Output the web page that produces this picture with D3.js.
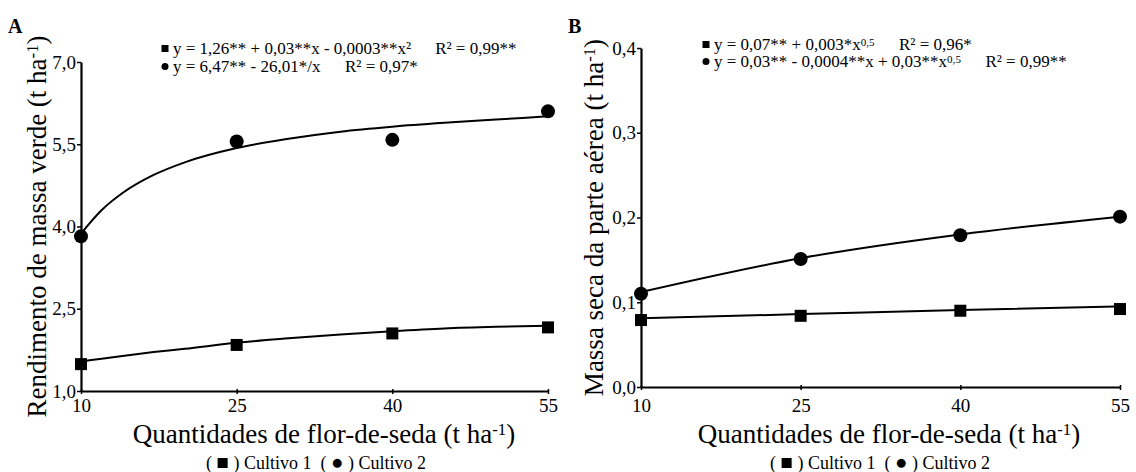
<!DOCTYPE html>
<html>
<head>
<meta charset="utf-8">
<script src="https://cdn.jsdelivr.net/npm/d3@7"></script>
<style>
    body { margin: 0; background: #fff; }
    svg { display: block; }
</style>
</head>
<body>
<svg id="chart" width="1136" height="472"></svg>
<script>
// doses of flor-de-seda (t ha-1)
const doses = [10, 25, 40, 55];
const xTicks = [10, 25, 40, 55];

// A - rendimento de massa verde
const verdeCultivo1 = [1.49, 1.84, 2.05, 2.16];
const verdeCultivo2 = [3.82, 5.55, 5.58, 6.10];
const ajusteDosesA = [10, 12, 14, 17, 20, 25, 30, 35, 40, 45, 50, 55];
const ajusteVerde1 = [1.54, 1.59, 1.64, 1.71, 1.77, 1.88, 1.96, 2.03, 2.09, 2.14, 2.17, 2.19];
const ajusteVerde2 = [3.87, 4.30, 4.61, 4.94, 5.17, 5.43, 5.60, 5.73, 5.82, 5.89, 5.95, 6.01];
const yTicksA = [1, 2.5, 4, 5.5, 7];

// B - massa seca da parte aerea
const secaCultivo1 = [0.079, 0.084, 0.090, 0.092];
const secaCultivo2 = [0.110, 0.151, 0.179, 0.201];
const ajusteDosesB = [10, 25, 40, 55];
const ajusteSeca1 = [0.081, 0.086, 0.091, 0.095];
const ajusteSeca2 = [0.112, 0.152, 0.180, 0.201];
const yTicksB = [0, 0.1, 0.2, 0.3, 0.4];

// find a Times-like font that is really installed
function pickFont(cands) {
    const ctx = document.createElement('canvas').getContext('2d');
    const s = 'Quantidades de flor-de-seda 0123456789';
    ctx.font = '40px monospace';
    const base = ctx.measureText(s).width;
    for (const f of cands) {
        ctx.font = `40px "${f}", monospace`;
        if (ctx.measureText(s).width !== base) return f;
    }
    return 'serif';
}
const serifFont = pickFont(['Liberation Serif', 'Times New Roman', 'Tinos', 'DejaVu Serif', 'Noto Serif']);

const svg = d3.select('#chart')
    .attr('font-family', `"${serifFont}", serif`);
const fmt = v => d3.format('.1f')(v).replace('.', ',');
const eqSize = 17;

const panels = [
    {
        letter: 'A', left: 81, right: 548, top: 62, bottom: 391,
        yDomain: [1, 7], yTicks: yTicksA,
        yTitle: 'Rendimento de massa verde (t ha', yTitleX: 46,
        titleX: 324, legendX: 316,
        s1: verdeCultivo1, s2: verdeCultivo2,
        fitX: ajusteDosesA, fit1: ajusteVerde1, fit2: ajusteVerde2,
        eq: { x: 165, y1: 54, y2: 72 },
        eq1: [['y = 1,26** + 0,03**x - 0,0003**x²']],
        eq2: [['y = 6,47** - 26,01*/x']],
        r1: 'R² = 0,99**', r2: 'R² = 0,97*'
    },
    {
        letter: 'B', left: 641, right: 1120, top: 48, bottom: 387,
        yDomain: [0, 0.4], yTicks: yTicksB,
        yTitle: 'Massa seca da parte aérea (t ha', yTitleX: 603,
        titleX: 889, legendX: 880,
        s1: secaCultivo1, s2: secaCultivo2,
        fitX: ajusteDosesB, fit1: ajusteSeca1, fit2: ajusteSeca2,
        eq: { x: 706, y1: 50, y2: 67 },
        eq1: [['y = 0,07** + 0,003*x'], ['0,5', true]],
        eq2: [['y = 0,03** - 0,0004**x + 0,03**x'], ['0,5', true]],
        r1: 'R² = 0,96*', r2: 'R² = 0,99**'
    }
];

function supText(sel, main) {
    sel.append('tspan').text(main);
    sel.append('tspan').attr('dy', '-0.5em').attr('font-size', '0.62em').text('-1');
    sel.append('tspan').attr('dy', '0.3em').text(')');
}

function drawPanel(p) {
    const g = svg.append('g');
    const x = d3.scaleLinear().domain([10, 55]).range([p.left, p.right]);
    const y = d3.scaleLinear().domain(p.yDomain).range([p.bottom, p.top]);

    // axes
    const xAxis = g.append('g')
        .attr('transform', `translate(0,${p.bottom})`)
        .call(d3.axisBottom(x).tickValues(xTicks).tickSize(4).tickSizeOuter(0))
        .attr('font-family', null).attr('font-size', 19);
    xAxis.selectAll('.tick line').attr('y1', -2).attr('y2', 3).attr('stroke-width', 1.5);
    xAxis.selectAll('.tick text')
        .attr('y', 412 - p.bottom).attr('dy', null);

    const yAxis = g.append('g')
        .attr('transform', `translate(${p.left},0)`)
        .call(d3.axisLeft(y).tickValues(p.yTicks).tickFormat(fmt).tickSize(4).tickSizeOuter(0))
        .attr('font-family', null).attr('font-size', 19);
    yAxis.selectAll('.tick line').attr('stroke-width', 1.5);
    yAxis.selectAll('.tick text').attr('x', -5);

    g.selectAll('.domain').attr('stroke-width', 2.2);

    // fitted curves
    const line = d3.line()
        .x(d => x(d[0]))
        .y(d => y(d[1]))
        .curve(d3.curveMonotoneX);
    [p.fit1, p.fit2].forEach(fit => {
        g.append('path')
            .datum(p.fitX.map((d, i) => [d, fit[i]]))
            .attr('d', line)
            .attr('fill', 'none')
            .attr('stroke', '#000')
            .attr('stroke-width', 2);
    });

    // observed points
    g.selectAll('.sq')
        .data(doses.map((d, i) => [d, p.s1[i]]))
        .enter().append('rect')
        .attr('x', d => x(d[0]) - 6)
        .attr('y', d => y(d[1]) - 6)
        .attr('width', 12)
        .attr('height', 12)
        .attr('fill', '#000');
    g.selectAll('.ci')
        .data(doses.map((d, i) => [d, p.s2[i]]))
        .enter().append('circle')
        .attr('cx', d => x(d[0]))
        .attr('cy', d => y(d[1]))
        .attr('r', 7)
        .attr('fill', '#000');

    // panel letter
    g.append('text')
        .attr('x', p.left - 73).attr('y', 33)
        .attr('font-size', 20).attr('font-weight', 'bold')
        .text(p.letter);

    // axis titles
    const xt = g.append('text')
        .attr('x', p.titleX).attr('y', 443)
        .attr('text-anchor', 'middle').attr('font-size', 27);
    supText(xt, 'Quantidades de flor-de-seda (t ha');

    const yt = g.append('text')
        .attr('transform', `translate(${p.yTitleX},${(p.top + p.bottom) / 2}) rotate(-90)`)
        .attr('text-anchor', 'middle').attr('font-size', 27);
    supText(yt, p.yTitle);

    // legend
    const lg = g.append('text')
        .attr('x', p.legendX).attr('y', 469)
        .attr('text-anchor', 'middle').attr('font-size', 18)
        .attr('xml:space', 'preserve');
    lg.append('tspan').text('( ');
    lg.append('tspan').attr('font-size', '1.15em').text('■');
    lg.append('tspan').text(' ) Cultivo 1  ( ');
    lg.append('tspan').attr('font-size', '1.15em').text('●');
    lg.append('tspan').text(' ) Cultivo 2');

    // equations, R² placed after each equation
    const e = p.eq;
    g.append('rect').attr('x', e.x - 3.5).attr('y', e.y1 - 9).attr('width', 7).attr('height', 7);
    g.append('circle').attr('cx', e.x).attr('cy', e.y2 - 5.5).attr('r', 3.5);
    [[p.eq1, e.y1, p.r1], [p.eq2, e.y2, p.r2]].forEach(([parts, yy, r2]) => {
        const t = g.append('text')
            .attr('x', e.x + 8).attr('y', yy).attr('font-size', eqSize);
        parts.forEach(([s, sup]) => {
            if (sup) t.append('tspan').attr('dy', '-0.4em').attr('font-size', '0.65em').text(s);
            else t.append('tspan').text(s);
        });
        const bb = t.node().getBBox();
        g.append('text')
            .attr('x', bb.x + bb.width + 24).attr('y', yy)
            .attr('font-size', eqSize).text(r2);
    });
}

panels.forEach(drawPanel);
</script>
</body>
</html>
